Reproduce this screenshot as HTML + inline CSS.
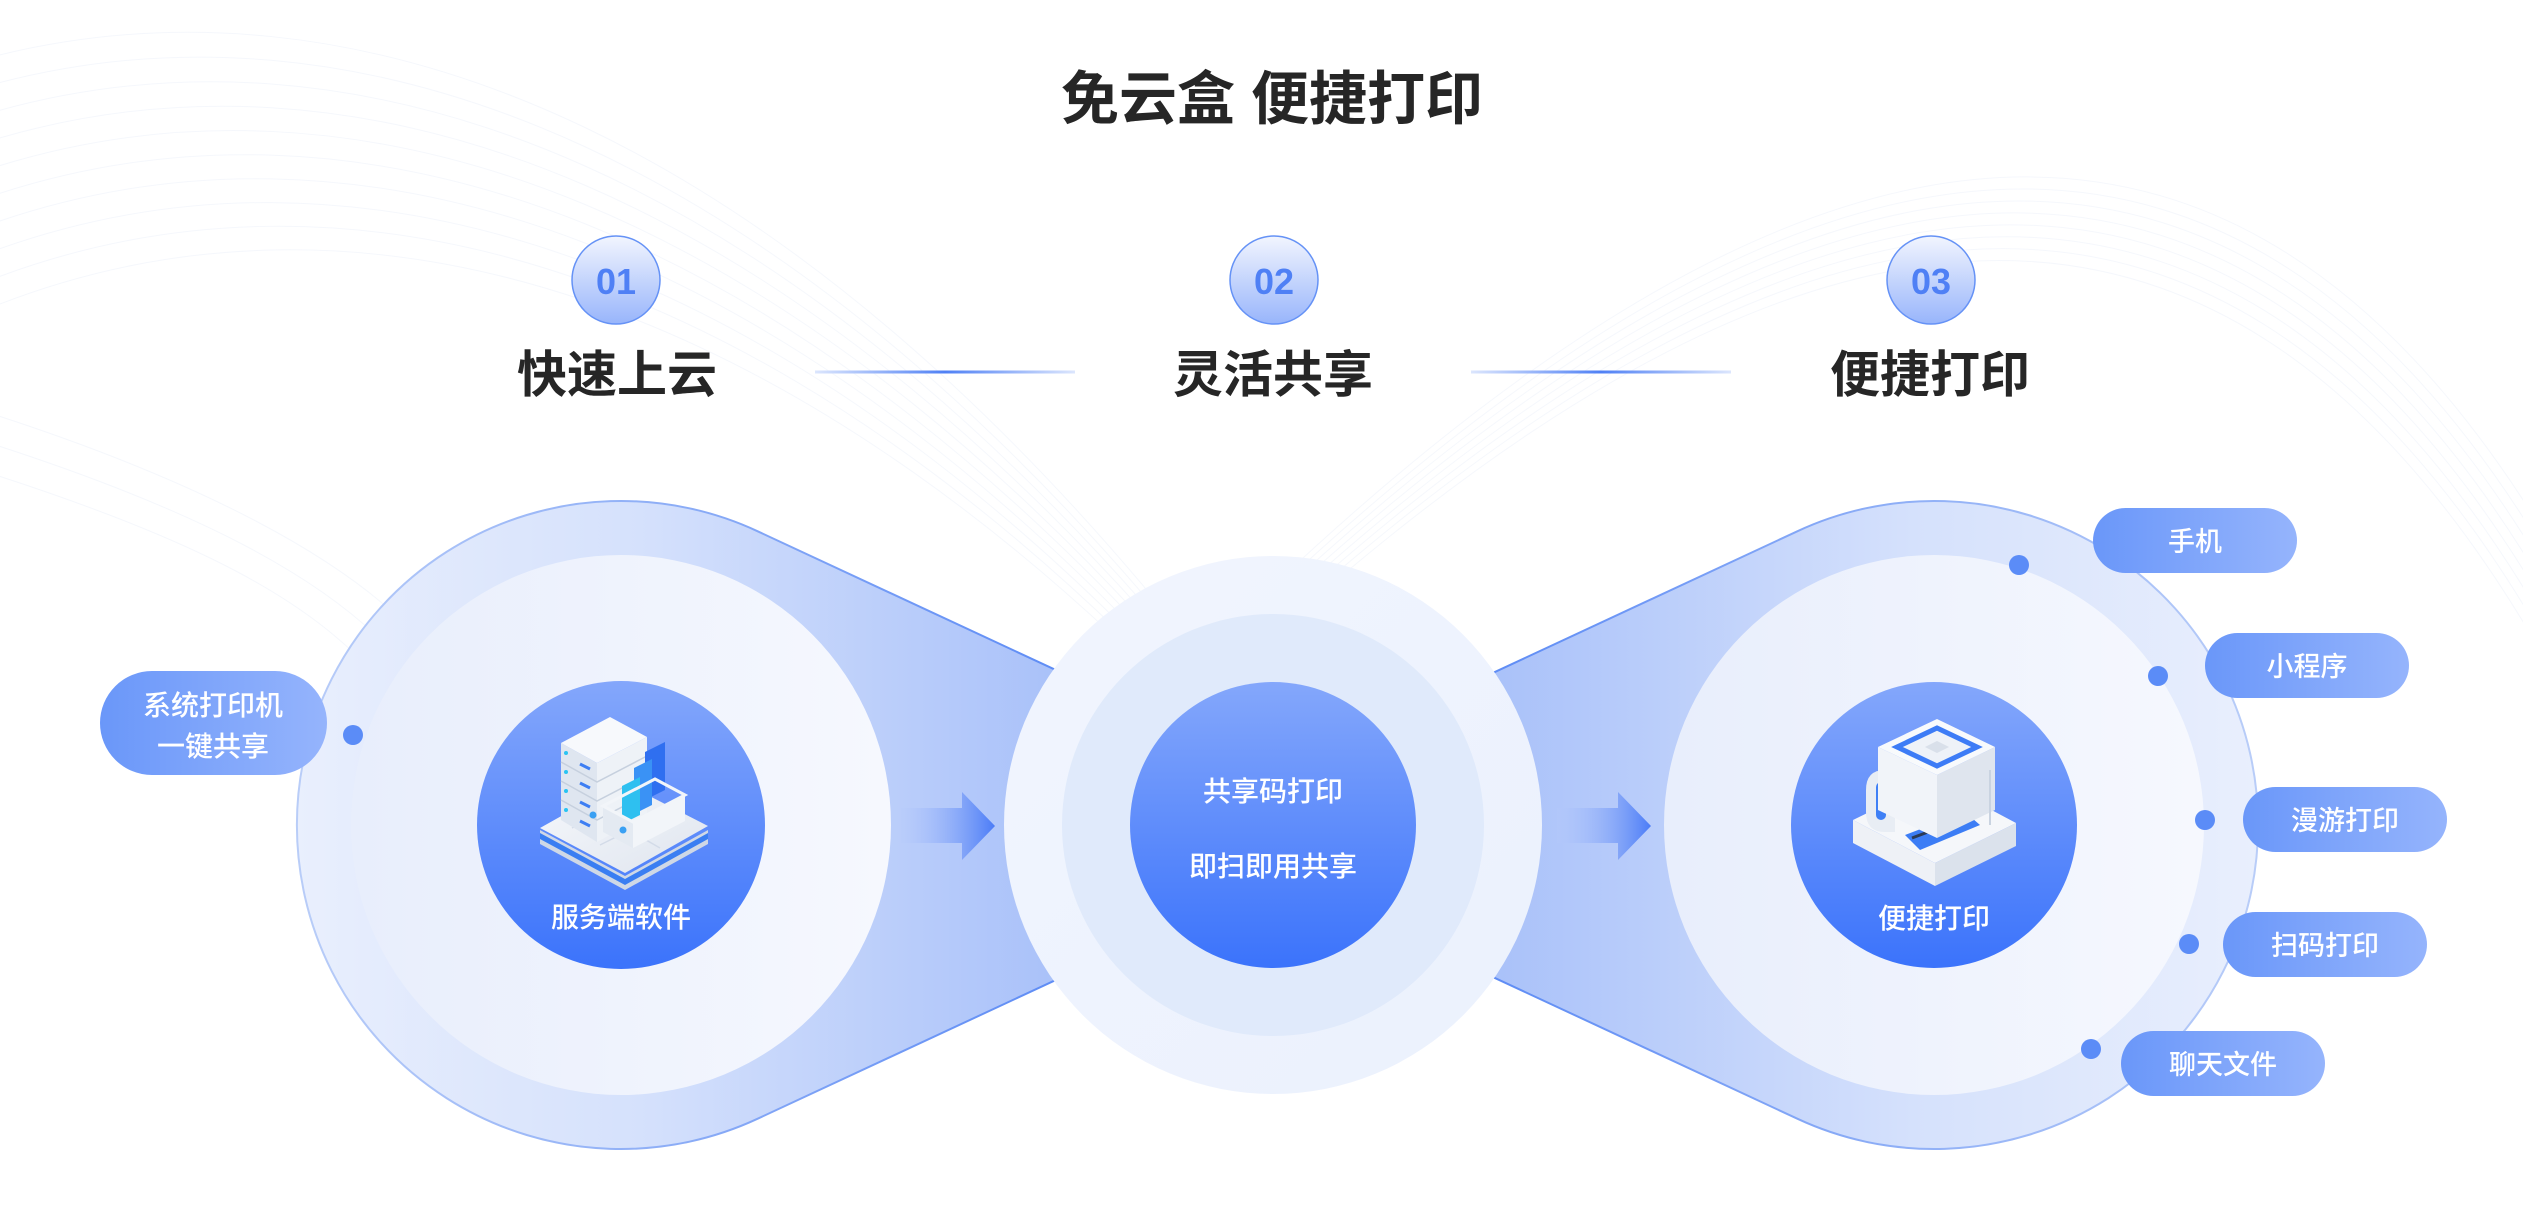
<!DOCTYPE html>
<html>
<head>
<meta charset="utf-8">
<style>
html,body{margin:0;padding:0;background:#ffffff;}
body{width:2523px;height:1227px;overflow:hidden;}
svg{display:block;}
text{font-family:"Liberation Sans","Noto Sans CJK SC",sans-serif;}
</style>
</head>
<body>
<svg width="2523" height="1227" viewBox="0 0 2523 1227" xmlns="http://www.w3.org/2000/svg">
<defs>
  <linearGradient id="blobL" gradientUnits="userSpaceOnUse" x1="297" y1="0" x2="1060" y2="0">
    <stop offset="0" stop-color="#e9effd"/>
    <stop offset="0.45" stop-color="#d5e1fc"/>
    <stop offset="1" stop-color="#a9c1f9"/>
  </linearGradient>
  <linearGradient id="blobR" gradientUnits="userSpaceOnUse" x1="2258" y1="0" x2="1490" y2="0">
    <stop offset="0" stop-color="#e9effd"/>
    <stop offset="0.45" stop-color="#d5e1fc"/>
    <stop offset="1" stop-color="#a9c1f9"/>
  </linearGradient>
  <linearGradient id="strokeL" gradientUnits="userSpaceOnUse" x1="297" y1="0" x2="1060" y2="0">
    <stop offset="0" stop-color="#b9cdf8"/>
    <stop offset="1" stop-color="#5e8cf5"/>
  </linearGradient>
  <linearGradient id="strokeR" gradientUnits="userSpaceOnUse" x1="2258" y1="0" x2="1490" y2="0">
    <stop offset="0" stop-color="#b9cdf8"/>
    <stop offset="1" stop-color="#5e8cf5"/>
  </linearGradient>
  <linearGradient id="inner" x1="0" y1="0" x2="1" y2="0">
    <stop offset="0" stop-color="#e8eefc"/>
    <stop offset="1" stop-color="#f6f8fe"/>
  </linearGradient>
  <linearGradient id="blue" x1="0" y1="0" x2="0" y2="1">
    <stop offset="0" stop-color="#84a7fb"/>
    <stop offset="1" stop-color="#3b73fb"/>
  </linearGradient>
  <linearGradient id="pill" x1="0" y1="0" x2="1" y2="0">
    <stop offset="0" stop-color="#6a97f9"/>
    <stop offset="1" stop-color="#95b4fc"/>
  </linearGradient>
  <linearGradient id="step" x1="0" y1="0" x2="0" y2="1">
    <stop offset="0" stop-color="#f2f5fe"/>
    <stop offset="1" stop-color="#98b5fb"/>
  </linearGradient>
  <linearGradient id="arrow1" gradientUnits="userSpaceOnUse" x1="901" y1="0" x2="995" y2="0">
    <stop offset="0" stop-color="#b7cafa" stop-opacity="0.2"/>
    <stop offset="1" stop-color="#4b7cf7"/>
  </linearGradient>
  <linearGradient id="arrow2" gradientUnits="userSpaceOnUse" x1="1557" y1="0" x2="1651" y2="0">
    <stop offset="0" stop-color="#b7cafa" stop-opacity="0.2"/>
    <stop offset="1" stop-color="#4b7cf7"/>
  </linearGradient>
  <linearGradient id="lineG" x1="0" y1="0" x2="1" y2="0">
    <stop offset="0" stop-color="#dce6fd"/>
    <stop offset="0.5" stop-color="#4f80f5"/>
    <stop offset="1" stop-color="#dce6fd"/>
  </linearGradient>
  <linearGradient id="midOuter" x1="0" y1="0" x2="1" y2="1">
    <stop offset="0" stop-color="#f1f5fe"/>
    <stop offset="1" stop-color="#ebf1fd"/>
  </linearGradient>
  <linearGradient id="slab" x1="0" y1="0" x2="1" y2="1">
    <stop offset="0" stop-color="#f6f8fb"/>
    <stop offset="1" stop-color="#dfe5ef"/>
  </linearGradient>
</defs>

<!-- background faint wave lines -->
<g fill="none" stroke="#e4ebf7" stroke-width="1" opacity="0.35">
  <path d="M-20 60 C350 -40 800 120 1250 720"/>
  <path d="M-20 88 C350 -18 800 138 1250 726"/>
  <path d="M-20 116 C350 4 800 156 1250 732"/>
  <path d="M-20 144 C350 26 800 174 1250 738"/>
  <path d="M-20 172 C350 48 800 192 1250 744"/>
  <path d="M-20 200 C350 70 800 210 1250 750"/>
  <path d="M-20 228 C350 92 800 228 1250 756"/>
  <path d="M-20 256 C350 114 800 246 1250 762"/>
  <path d="M-20 284 C350 136 800 264 1250 768"/>
  <path d="M-20 312 C350 158 800 282 1250 774"/>
  <path d="M-20 410 C200 480 350 560 420 640"/>
  <path d="M-20 440 C200 510 330 580 400 660"/>
  <path d="M-20 470 C200 540 310 600 380 680"/>
  <path d="M1100 760 C1700 120 2200 -60 2560 560"/>
  <path d="M1100 766 C1700 130 2200 -48 2560 578"/>
  <path d="M1100 772 C1700 140 2200 -36 2560 596"/>
  <path d="M1100 778 C1700 150 2200 -24 2560 614"/>
  <path d="M1100 784 C1700 160 2200 -12 2560 632"/>
  <path d="M1100 790 C1700 170 2200 0 2560 650"/>
  <path d="M1100 796 C1700 180 2200 12 2560 668"/>
  <path d="M1100 802 C1700 190 2200 24 2560 686"/>
</g>

<!-- Title -->
<text x="1272" y="119" font-size="58" font-weight="700" fill="#262626" text-anchor="middle">免云盒 便捷打印</text>

<!-- Steps -->
<circle cx="616" cy="280" r="44" fill="url(#step)" stroke="#6592f6" stroke-width="1.5"/>
<circle cx="1274" cy="280" r="44" fill="url(#step)" stroke="#6592f6" stroke-width="1.5"/>
<circle cx="1931" cy="280" r="44" fill="url(#step)" stroke="#6592f6" stroke-width="1.5"/>
<text x="616" y="294" font-size="36" font-weight="700" fill="#4f80f5" text-anchor="middle">01</text>
<text x="1274" y="294" font-size="36" font-weight="700" fill="#4f80f5" text-anchor="middle">02</text>
<text x="1931" y="294" font-size="36" font-weight="700" fill="#4f80f5" text-anchor="middle">03</text>

<text x="617" y="392" font-size="50" font-weight="700" fill="#262626" text-anchor="middle">快速上云</text>
<text x="1273" y="392" font-size="50" font-weight="700" fill="#262626" text-anchor="middle">灵活共享</text>
<text x="1930" y="392" font-size="50" font-weight="700" fill="#262626" text-anchor="middle">便捷打印</text>

<rect x="815" y="370.5" width="260" height="3" fill="url(#lineG)"/>
<rect x="1471" y="370.5" width="260" height="3" fill="url(#lineG)"/>

<!-- Blobs -->
<path d="M757.7 531.3 L1389 825 L757.7 1118.7 A324 324 0 1 1 757.7 531.3 Z" fill="url(#blobL)" stroke="url(#strokeL)" stroke-width="2"/>
<path d="M1797.3 531.3 L1166 825 L1797.3 1118.7 A324 324 0 1 0 1797.3 531.3 Z" fill="url(#blobR)" stroke="url(#strokeR)" stroke-width="2"/>

<!-- inner circles -->
<circle cx="621" cy="825" r="270" fill="url(#inner)"/>
<circle cx="1934" cy="825" r="270" fill="url(#inner)"/>

<!-- middle circle -->
<circle cx="1273" cy="825" r="269" fill="url(#midOuter)"/>
<circle cx="1273" cy="825" r="211" fill="#e0eafb"/>

<!-- arrows -->
<path d="M901 808 L962 808 L962 792 L995 826 L962 860 L962 843 L901 843 Z" fill="url(#arrow1)"/>
<path d="M1557 808 L1618 808 L1618 792 L1651 826 L1618 860 L1618 843 L1557 843 Z" fill="url(#arrow2)"/>

<!-- blue circles -->
<circle cx="621" cy="825" r="144" fill="url(#blue)"/>
<circle cx="1273" cy="825" r="143" fill="url(#blue)"/>
<circle cx="1934" cy="825" r="143" fill="url(#blue)"/>

<!-- server icon -->
<g>
  <path d="M540 830 L625 876 L708 830 L708 844 L625 890 L540 844 Z" fill="#cfd8e6"/>
  <path d="M540 833 L625 879 L708 833 L708 839 L625 885 L540 839 Z" fill="#3a7ef2"/>
  <path d="M540 828 L622 782 L708 826 L625 873 Z" fill="url(#slab)"/>
  <g stroke="#d3dbe8" stroke-width="1.5" fill="none">
    <path d="M572 828 L650 790"/>
    <path d="M600 845 L680 805"/>
    <path d="M585 805 L660 848"/>
  </g>
  <!-- server stack -->
  <path d="M561 743 L597 763 L597 842 L561 820 Z" fill="#dfe6f0"/>
  <path d="M597 763 L647 737 L647 814 L597 842 Z" fill="#eef2f7"/>
  <path d="M561 743 L610 717 L647 737 L597 763 Z" fill="#f7f9fc"/>
  <g stroke="#c6d0de" stroke-width="1.5" fill="none">
    <path d="M561 762 L597 782 L647 756"/>
    <path d="M561 781 L597 801 L647 775"/>
    <path d="M561 800 L597 820 L647 794"/>
  </g>
  <g stroke="#3d7ef3" stroke-width="3" fill="none">
    <path d="M580 764 L590 769"/>
    <path d="M580 783 L590 788"/>
    <path d="M580 802 L590 807"/>
    <path d="M580 821 L590 826"/>
  </g>
  <g fill="#29c4f2">
    <circle cx="566" cy="753" r="2"/>
    <circle cx="566" cy="772" r="2"/>
    <circle cx="566" cy="791" r="2"/>
    <circle cx="566" cy="810" r="2"/>
  </g>
  <!-- folders -->
  <path d="M645 752 L665 742 L665 790 L645 800 Z" fill="#2f6ff0"/>
  <path d="M634 768 L652 759 L652 805 L634 814 Z" fill="#3a92f5"/>
  <path d="M622 786 L640 777 L640 815 L622 824 Z" fill="#2ec0f0"/>
  <!-- tray -->
  <path d="M603 806 L633 822 L633 848 L603 832 Z" fill="#e4eaf2"/>
  <path d="M633 822 L685 795 L685 821 L633 848 Z" fill="#f2f5f9"/>
  <path d="M603 806 L655 779 L685 795 L633 822 Z" fill="none" stroke="#f2f5f9" stroke-width="3"/>
  <circle cx="593" cy="815" r="3.5" fill="#3aa0f3"/>
  <circle cx="623" cy="830" r="3.5" fill="#3aa0f3"/>
</g>

<!-- printer icon -->
<g>
  <path d="M1935 863 L2016 823 L2016 846 L1935 886 Z" fill="#dbe2ec"/>
  <path d="M1853 820 L1935 863 L1935 886 L1853 843 Z" fill="#eef1f6"/>
  <path d="M1853 820 L1935 780 L2016 823 L1935 863 Z" fill="#f5f7fa"/>
  <!-- paper path -->
  <path d="M1905 835 L1965 812 L1980 825 L1920 850 Z" fill="#3c7df5"/>
  <path d="M1912 838 L1960 820" stroke="#2a3a55" stroke-width="3" fill="none"/>
  <!-- roller -->
  <path d="M1866 790 Q1866 770 1885 770 L1895 770 L1895 832 L1885 832 Q1866 832 1866 812 Z" fill="#e8edf4"/>
  <rect x="1876" y="782" width="10" height="38" rx="5" fill="#3f80f6"/>
  <!-- cube -->
  <path d="M1878 747 L1937 775 L1937 838 L1878 810 Z" fill="#f1f4f9"/>
  <path d="M1937 775 L1995 747 L1995 810 L1937 838 Z" fill="#dfe5ee"/>
  <path d="M1878 747 L1937 719 L1995 747 L1937 775 Z" fill="#f8fafc"/>
  <path d="M1897 747 L1937 728 L1977 747 L1937 766 Z" fill="#eef2f8" stroke="#3d7cf6" stroke-width="5"/>
  <path d="M1925 747 L1937 741 L1949 747 L1937 753 Z" fill="#d9e0ea"/>
  <path d="M1990 770 L1990 825" stroke="#c9d3e0" stroke-width="2" fill="none"/>
</g>

<!-- circle labels -->
<text x="621" y="927" font-size="28" font-weight="500" fill="#ffffff" text-anchor="middle">服务端软件</text>
<text x="1273" y="801" font-size="28" font-weight="500" fill="#ffffff" text-anchor="middle">共享码打印</text>
<text x="1273" y="876" font-size="28" font-weight="500" fill="#ffffff" text-anchor="middle">即扫即用共享</text>
<text x="1934" y="928" font-size="28" font-weight="500" fill="#ffffff" text-anchor="middle">便捷打印</text>

<!-- left pill -->
<rect x="100" y="671" width="227" height="104" rx="52" fill="url(#pill)"/>
<text x="213" y="715" font-size="28" font-weight="500" fill="#ffffff" text-anchor="middle">系统打印机</text>
<text x="213" y="756" font-size="28" font-weight="500" fill="#ffffff" text-anchor="middle">一键共享</text>
<circle cx="353" cy="735" r="10" fill="#5b8cf7"/>

<!-- right pills -->
<rect x="2093" y="508" width="204" height="65" rx="32.5" fill="url(#pill)"/>
<text x="2195" y="551" font-size="27" font-weight="500" fill="#ffffff" text-anchor="middle">手机</text>
<rect x="2205" y="633" width="204" height="65" rx="32.5" fill="url(#pill)"/>
<text x="2307" y="676" font-size="27" font-weight="500" fill="#ffffff" text-anchor="middle">小程序</text>
<rect x="2243" y="787" width="204" height="65" rx="32.5" fill="url(#pill)"/>
<text x="2345" y="830" font-size="27" font-weight="500" fill="#ffffff" text-anchor="middle">漫游打印</text>
<rect x="2223" y="912" width="204" height="65" rx="32.5" fill="url(#pill)"/>
<text x="2325" y="955" font-size="27" font-weight="500" fill="#ffffff" text-anchor="middle">扫码打印</text>
<rect x="2121" y="1031" width="204" height="65" rx="32.5" fill="url(#pill)"/>
<text x="2223" y="1074" font-size="27" font-weight="500" fill="#ffffff" text-anchor="middle">聊天文件</text>

<g fill="#5b8cf7">
  <circle cx="2019" cy="565" r="10"/>
  <circle cx="2158" cy="676" r="10"/>
  <circle cx="2205" cy="820" r="10"/>
  <circle cx="2189" cy="944" r="10"/>
  <circle cx="2091" cy="1049" r="10"/>
</g>
</svg>
</body>
</html>
